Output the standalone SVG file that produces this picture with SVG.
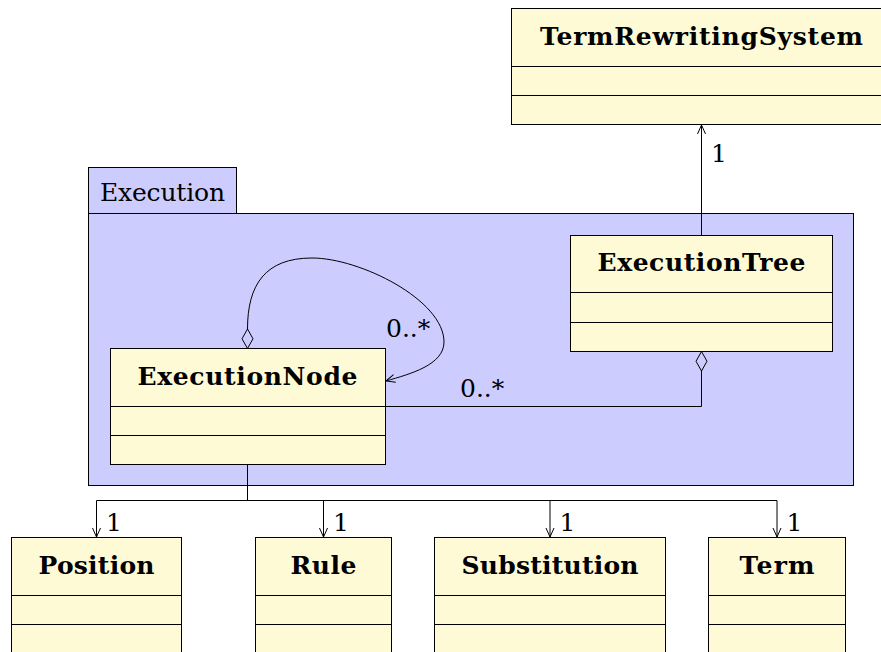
<svg xmlns="http://www.w3.org/2000/svg" width="881" height="652" viewBox="0 0 881 652">
<style>
.cls rect{fill:#fffad6;stroke:#000;stroke-width:1}
.cls line{stroke:#000;stroke-width:1}
.pkg{fill:#ccccff;stroke:#000;stroke-width:1}
.bt{font-family:"DejaVu Serif","Liberation Serif",serif;font-weight:bold;font-size:25px;text-anchor:middle;fill:#000}
.rt{font-family:"DejaVu Serif","Liberation Serif",serif;font-size:25px;fill:#000}
.conn path{fill:none;stroke:#000;stroke-width:1}
</style>
<defs>
<marker id="arr" markerUnits="userSpaceOnUse" markerWidth="20" markerHeight="20" refX="0" refY="0" orient="auto" overflow="visible">
<path d="M-9,-4 L0,0 L-9,4" fill="none" stroke="#000" stroke-width="1"/>
</marker>
<marker id="dia" markerUnits="userSpaceOnUse" markerWidth="24" markerHeight="24" refX="0" refY="0" orient="auto" overflow="visible">
<path d="M0,0 L9.75,-5.5 L19.5,0 L9.75,5.5 Z" fill="#ccccff" stroke="#000" stroke-width="1"/>
</marker>
</defs>
<rect width="881" height="652" fill="#fff"/>
<g id="pkg-Execution">
<rect class="pkg" x="88.5" y="167.5" width="148" height="46"/>
<rect class="pkg" x="88.5" y="213.5" width="765" height="272"/>
<text class="rt" x="100" y="201" textLength="125">Execution</text>
</g>
<g id="TermRewritingSystem" class="cls">
<rect x="511.5" y="8.5" width="380" height="116"/>
<line x1="511.5" y1="66.5" x2="891.5" y2="66.5"/>
<line x1="511.5" y1="95.5" x2="891.5" y2="95.5"/>
<text class="bt" x="701.5" y="44.5" textLength="323">TermRewritingSystem</text>
</g>
<g id="ExecutionTree" class="cls">
<rect x="570.5" y="235.5" width="262" height="116"/>
<line x1="570.5" y1="292.5" x2="832.5" y2="292.5"/>
<line x1="570.5" y1="322.5" x2="832.5" y2="322.5"/>
<text class="bt" x="701.5" y="271" textLength="208">ExecutionTree</text>
</g>
<g id="ExecutionNode" class="cls">
<rect x="110.5" y="348.5" width="275" height="116"/>
<line x1="110.5" y1="406.5" x2="385.5" y2="406.5"/>
<line x1="110.5" y1="435.5" x2="385.5" y2="435.5"/>
<text class="bt" x="247.5" y="384.5" textLength="220">ExecutionNode</text>
</g>
<g id="Position" class="cls">
<rect x="11.5" y="537.5" width="170" height="130"/>
<line x1="11.5" y1="595.5" x2="181.5" y2="595.5"/>
<line x1="11.5" y1="624.5" x2="181.5" y2="624.5"/>
<text class="bt" x="96.5" y="573.5" textLength="116">Position</text>
</g>
<g id="Rule" class="cls">
<rect x="255.5" y="537.5" width="136" height="130"/>
<line x1="255.5" y1="595.5" x2="391.5" y2="595.5"/>
<line x1="255.5" y1="624.5" x2="391.5" y2="624.5"/>
<text class="bt" x="323.5" y="573.5" textLength="66">Rule</text>
</g>
<g id="Substitution" class="cls">
<rect x="434.5" y="537.5" width="231" height="130"/>
<line x1="434.5" y1="595.5" x2="665.5" y2="595.5"/>
<line x1="434.5" y1="624.5" x2="665.5" y2="624.5"/>
<text class="bt" x="550" y="573.5" textLength="177">Substitution</text>
</g>
<g id="Term" class="cls">
<rect x="708.5" y="537.5" width="137" height="130"/>
<line x1="708.5" y1="595.5" x2="845.5" y2="595.5"/>
<line x1="708.5" y1="624.5" x2="845.5" y2="624.5"/>
<text class="bt" x="777" y="573.5" textLength="75">Term</text>
</g>
<g id="connectors" class="conn">
<path d="M701.5,235.5 L701.5,125" marker-end="url(#arr)"/>
<path d="M701.5,351.5 L701.5,406.5 L385.5,406.5" marker-start="url(#dia)"/>
<path d="M247.5,348.5 L247.5,329 C247.5,285 265,258 312,258 C360,258 444,300 444,342 C444,365 410,374 386,381" marker-start="url(#dia)" marker-end="url(#arr)"/>
<path d="M247.5,464.5 V500.5 H96.5 V537" marker-end="url(#arr)"/>
<path d="M247.5,464.5 V500.5 H323.5 V537" marker-end="url(#arr)"/>
<path d="M247.5,464.5 V500.5 H550 V537" marker-end="url(#arr)"/>
<path d="M247.5,464.5 V500.5 H777 V537" marker-end="url(#arr)"/>
</g>
<g id="labels">
<text class="rt" x="711" y="162">1</text>
<text class="rt" x="386" y="337">0..*</text>
<text class="rt" x="460" y="397">0..*</text>
<text class="rt" x="106" y="531">1</text>
<text class="rt" x="333" y="531">1</text>
<text class="rt" x="559.5" y="531">1</text>
<text class="rt" x="786.5" y="531">1</text>
</g>
</svg>
